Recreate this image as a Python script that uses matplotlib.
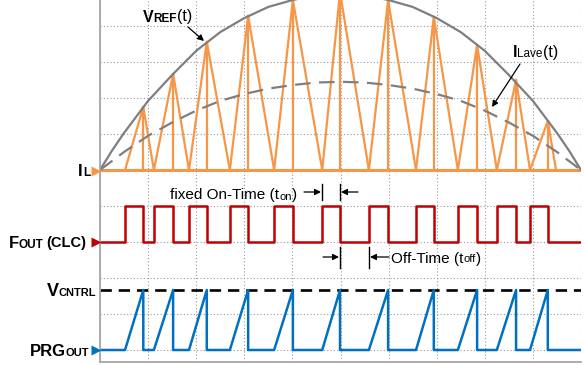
import matplotlib
matplotlib.use("Agg")
import matplotlib.pyplot as plt
from matplotlib.lines import Line2D

W, H, DPI = 584, 365, 100
FONT = ["Liberation Sans", "DejaVu Sans"]

# ---------------- data (x in time divisions, y in vertical divisions) -------------
rise_t = [0.52, 1.12, 1.85, 2.70, 3.62, 4.62, 5.59, 6.57, 7.44, 8.25, 8.94]
fall_t = [0.90, 1.52, 2.22, 3.08, 4.01, 4.99, 5.99, 6.94, 7.84, 8.65, 9.31]
il_peak = [1.75, 2.67, 3.56, 4.28, 4.72, 4.94, 4.72, 4.25, 3.47, 2.50, 1.36]
il_last_zero = 9.48

vref_t = [0, 0.25, 0.5, 1.0, 1.5, 2.0, 2.5, 3.0, 3.5, 4.0, 4.5, 5.0,
          5.5, 6.0, 6.5, 7.0, 7.5, 8.0, 8.5, 9.0, 9.5, 9.75, 10]
vref = [0, 0.54, 1.03, 1.92, 2.64, 3.31, 3.83, 4.22, 4.53, 4.72, 4.86, 4.92,
        4.86, 4.72, 4.53, 4.22, 3.83, 3.31, 2.64, 1.92, 1.03, 0.54, 0]

ilave_t = [0, 0.5, 1.0, 1.5, 2.0, 2.5, 3.0, 3.5, 4.0, 4.5, 5.0,
           5.5, 6.0, 6.5, 7.0, 7.5, 8.0, 8.5, 9.0, 9.5, 10]
ilave = [0, 0.50, 0.95, 1.32, 1.65, 1.92, 2.11, 2.26, 2.36, 2.43, 2.45,
         2.43, 2.36, 2.26, 2.11, 1.92, 1.65, 1.32, 0.95, 0.50, 0]

il_base = 5.0
fout_low, fout_high = 3.0, 4.0
prg_base = 0.0
vcntrl = 1.667

ORANGE = "#F79646"
RED = "#C00000"
BLUE = "#0070C0"
GRAY = "#7F7F7F"

# ---------------- figure ----------------
fig = plt.figure(figsize=(W / DPI, H / DPI), dpi=DPI)
ax = fig.add_axes([100 / W, 3 / H, 481 / W, 362 / H])
ax.set_xlim(0, 10)
ax.set_ylim(-1 / 3, 9.722)
ax.set_xticks(range(0, 11))
ax.set_yticks(range(0, 10))
ax.tick_params(length=0, labelleft=False, labelbottom=False)
ax.grid(True, color="#9A9A9A", linestyle=(0, (1, 2)), linewidth=0.8)
ax.set_axisbelow(True)
for s in ["top", "right"]:
    ax.spines[s].set_visible(False)
for s in ["left", "bottom"]:
    ax.spines[s].set_color("#A6A6A6")
    ax.spines[s].set_linewidth(1.3)

# IL waveform
ax.plot([0, 10], [il_base, il_base], color=ORANGE, lw=2.2, solid_capstyle="butt")
ends = rise_t[1:] + [il_last_zero]
for r, f, p, e in zip(rise_t, fall_t, il_peak, ends):
    ax.plot([r, f, e], [il_base, il_base + p, il_base], color=ORANGE, lw=1.6)
    ax.plot([f, f], [il_base, il_base + p], color=ORANGE, lw=1.6)

# VREF and ILave
ax.plot(vref_t, [il_base + v for v in vref], color=GRAY, lw=1.6)
ax.plot(ilave_t, [il_base + v for v in ilave], color=GRAY, lw=1.6,
        dashes=(7.0, 3.8))

# FOUT
fx, fy = [0], [fout_low]
for r, f in zip(rise_t, fall_t):
    fx += [r, r, f, f]
    fy += [fout_low, fout_high, fout_high, fout_low]
fx.append(10)
fy.append(fout_low)
ax.plot(fx, fy, color=RED, lw=1.8)

# VCNTRL
ax.plot([0, 10], [vcntrl, vcntrl], color="black", lw=1.9, dashes=(4.3, 2.6))

# PRG out
px_, py_ = [0], [prg_base]
for r, f in zip(rise_t, fall_t):
    px_ += [r, f, f]
    py_ += [prg_base, vcntrl, prg_base]
px_.append(10)
py_.append(prg_base)
ax.plot(px_, py_, color=BLUE, lw=1.8)

# ---------------- annotations (figure pixel coordinates, y from top) ----------------
renderer = fig.canvas.get_renderer()


def P(x, y):
    return (x / W, 1 - y / H)


def rich(x, y, parts, ha="left"):
    texts, widths = [], []
    for s, size, weight in parts:
        t = fig.text(0, 0, s, fontsize=size, fontweight=weight, family=FONT,
                     va="baseline", ha="left", color="black")
        widths.append(t.get_window_extent(renderer).width)
        texts.append(t)
    x0 = x - sum(widths) if ha == "right" else x
    for t, w in zip(texts, widths):
        t.set_position(P(x0, y))
        x0 += w


def seg(x1, y1, x2, y2, lw=1.0, color="black"):
    fig.add_artist(Line2D([x1 / W, x2 / W], [1 - y1 / H, 1 - y2 / H],
                          transform=fig.transFigure, color=color, lw=lw))


def arrow(x1, y1, x2, y2):
    fig.add_artist(matplotlib.patches.FancyArrowPatch(
        P(x1, y1), P(x2, y2), transform=fig.transFigure,
        arrowstyle="-|>", mutation_scale=9, color="black", lw=0.9,
        shrinkA=0, shrinkB=0))


def tri(x, y, color):
    fig.add_artist(Line2D([x / W], [1 - y / H], transform=fig.transFigure,
                          marker=">", markersize=6.5, color=color, mec="none"))


BIG, SMALL = 12, 8
rich(90, 175.5, [("I", BIG, "bold"), ("L", SMALL + 0.5, "bold")], ha="right")
rich(86, 247.5, [("F", BIG, "bold"), ("OUT", SMALL + 0.5, "bold"), (" ", 6, "bold"),
                 ("(CLC)", 10.5, "bold")], ha="right")
rich(96, 295.5, [("V", BIG + 1, "bold"), ("CNTRL", SMALL, "bold")], ha="right")
rich(89, 355.5, [("PRG", BIG, "bold"), ("OUT", SMALL, "bold")], ha="right")
tri(96, 171, ORANGE)
tri(96, 242, RED)
tri(96, 350, BLUE)

rich(143, 21.5, [("V", 11.5, "bold"), ("REF", 8.5, "bold"), ("(t)", 11.5, "normal")])
arrow(188, 27, 204, 41)
rich(513, 57, [("I", 11.5, "bold"), ("Lave", 8.5, "normal"), ("(t)", 11.5, "normal")])
arrow(520, 64, 492, 107)

rich(170, 199.5, [("fixed On-Time (t", 11, "normal"), ("on", 8, "normal"), (")", 11, "normal")])
arrow(304, 192, 321, 192)
seg(322, 184, 322, 200)
seg(340, 184, 340, 200)
arrow(358, 192, 341, 192)

rich(391, 262.5, [("Off-Time (t", 11, "normal"), ("off", 8, "normal"), (")", 11, "normal")])
arrow(323, 257, 339, 257)
seg(340, 247, 340, 268)
seg(369, 247, 369, 268)
arrow(389, 257, 370, 257)

fig.savefig("out.png", dpi=DPI)
